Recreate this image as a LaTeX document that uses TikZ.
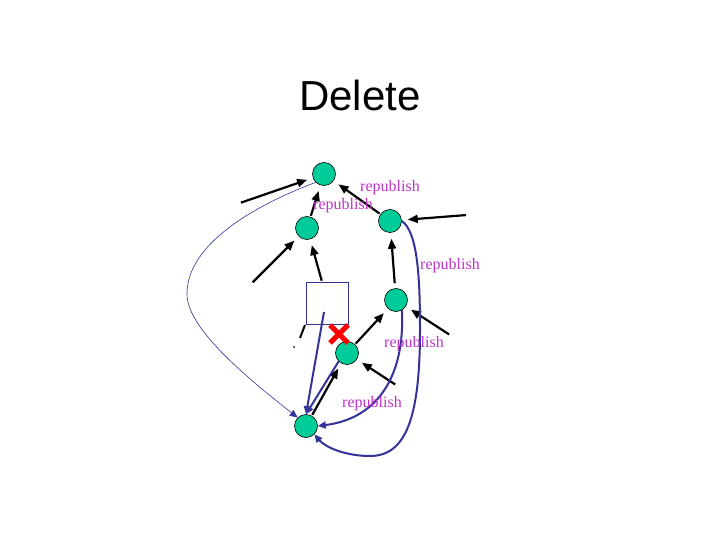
\documentclass[tikz,border=0pt]{standalone}
\usepackage{fontspec}
\setmainfont{Liberation Serif}
\newfontfamily\titlefont{Liberation Sans}
\usetikzlibrary{arrows.meta}
\definecolor{nodegreen}{RGB}{0,204,153}
\definecolor{labpurple}{RGB}{190,50,200}
\definecolor{linkblue}{RGB}{51,51,153}
\tikzset{
  peer/.style={circle, draw=black, line width=0.6pt, fill=nodegreen, minimum size=23pt, inner sep=0pt},
  blackarr/.style={line width=2.2pt, -{Triangle[length=10pt,width=8pt]}, shorten >=6pt, shorten <=1pt},
  bluethick/.style={draw=linkblue, line width=2pt, -{Triangle[length=8pt,width=7pt]}},
  bluethin/.style={draw=linkblue, line width=0.6pt, -{Triangle[length=8pt,width=7pt]}},
  lab/.style={text=labpurple, font=\fontsize{16pt}{18pt}\selectfont, inner sep=0pt},
}
\begin{document}
\begin{tikzpicture}[x=1pt,y=-1pt]
\useasboundingbox (0,0) rectangle (720,540);
\node[font=\titlefont\fontsize{42pt}{46pt}\selectfont] (title) at (360,95) {Delete};

\node[peer] (A) at (324,174) {};
\node[peer] (B) at (307,228) {};
\node[peer] (C) at (390,221) {};
\node[peer] (D) at (396,300) {};
\node[peer] (E) at (347,353) {};
\node[peer] (F) at (306,426) {};
\node[draw=linkblue, line width=0.6pt, minimum size=42pt, inner sep=0pt] (S) at (327,303) {};

\coordinate (a1) at (240,203);
\coordinate (c1) at (467,215);
\coordinate (b1) at (252,283);
\coordinate (d1) at (450,335);
\coordinate (e1) at (396,385);

% black arrows
\draw[blackarr] (a1) -- (A);
\draw[blackarr] (B) -- (A);
\draw[blackarr] (C) -- (A);
\draw[blackarr] (c1) -- (C);
\draw[blackarr, shorten <=5pt] (D) -- (C);
\draw[blackarr] (b1) -- (B);
\draw[blackarr] ([xshift=-5pt]S.north) -- (B);
\draw[blackarr] (E) -- (D);
\draw[blackarr] (d1) -- (D);
\draw[blackarr] (e1) -- (E);
\draw[blackarr] (F) -- (E);
\draw[line width=2pt] (305,325) -- (300,338);
\fill (294,347) circle (1pt);

% red cross
\draw[red, line width=5pt] (330,325) -- (348,343) (348,325) -- (330,343);

% blue links
\draw[bluethin] (A.south west) .. controls (230,215) and (186,255) .. (187,295)
   .. controls (188,330) and (250,380) .. (F.north west);
\draw[bluethick] (C.east) .. controls (418,232) and (420,280) .. (420,330)
   .. controls (420,420) and (405,456) .. (370,456)
   .. controls (345,456) and (325,447) .. (F.south east);
\draw[bluethick] (D.-60) .. controls (405,370) and (382,418) .. (F.east);
\draw[bluethick] (324,312) -- (F.north);
\draw[bluethick] (E.south west) -- (F.north);

% labels
\node[lab] (l1) at (390,188) {republish};
\node[lab] (l2) at (343,206) {republish};
\node[lab] (l3) at (450,266) {republish};
\node[lab] (l4) at (414,344) {republish};
\node[lab] (l5) at (372,404) {republish};
\end{tikzpicture}
\end{document}
